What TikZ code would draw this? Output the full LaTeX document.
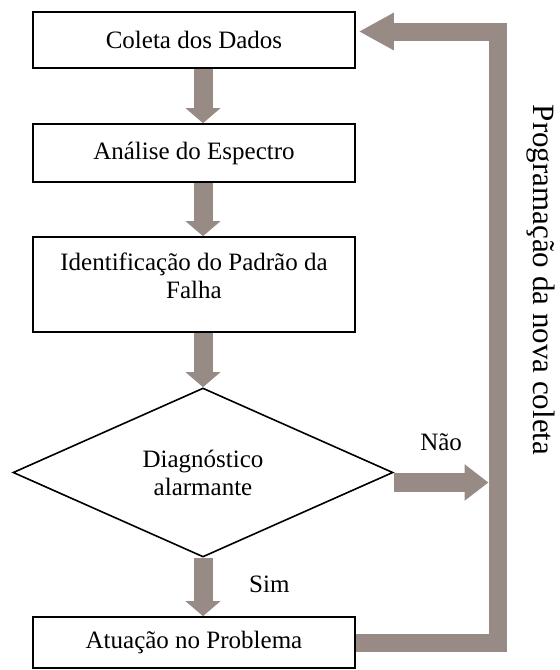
\documentclass[tikz,border=0pt]{standalone}
\usepackage{fontspec}
\setmainfont{Liberation Serif}
\usetikzlibrary{shapes.geometric, arrows.meta, positioning, calc}
\definecolor{setacinza}{RGB}{152,138,133}
\tikzset{
  etapa/.style   = {draw, line width=0.8pt, align=center, minimum width=161pt,
                    inner sep=2pt, font=\fontsize{12.5}{14}\selectfont},
  decisao/.style = {draw, diamond, line width=0.8pt, align=center,
                    minimum width=190pt, minimum height=84.5pt, inner sep=0pt,
                    font=\fontsize{12.5}{14}\selectfont},
  seta/.style    = {-{Triangle[width=17pt, length=7.5pt]}, line width=9.5pt,
                    draw=setacinza},
  retorno/.style = {line width=9pt, draw=setacinza, line join=miter},
  rotulo/.style  = {font=\fontsize{12.5}{14}\selectfont}
}
\begin{document}
\begin{tikzpicture}[x=0.5pt, y=-0.5pt]
\useasboundingbox (0,0) rectangle (560,670);
\node[etapa, minimum height=28pt]                      at (194, 40   ) (coleta)  {Coleta dos Dados};
\node[etapa, minimum height=29pt]                      at (194, 153  ) (analise) {Análise do Espectro};
\node[etapa, minimum height=47.5pt, text depth=8.5pt]  at (194, 284.5) (padrao)  {Identificação do Padrão da\\Falha};
\node[decisao]                                         at (203, 472.5) (diag)    {Diagnóstico\\alarmante};
\node[etapa, minimum height=25.5pt]                    at (194, 642.5) (atuacao) {Atuação no Problema};
\node[rotulo, font=\fontsize{15.5}{18}\selectfont, rotate=-90] at (541, 280) (prog) {Programação da nova coleta};
\coordinate (volta) at (497.5, 330);
\coordinate (nao)   at ([yshift=-5pt]diag.east -| volta);

\draw[seta] ([xshift=4.5pt]coleta.south)  -- ([xshift=4.5pt]analise.north);
\draw[seta] ([xshift=4.5pt]analise.south) -- ([xshift=4.5pt]padrao.north);
\draw[seta] ([xshift=4.5pt]padrao.south)  -- (diag.north);
\draw[seta] (diag.south) -- node[rotulo, right=15pt, pos=0.45] {Sim} ([xshift=4.5pt]atuacao.north);
\draw[seta, -{Triangle[width=17.5pt, length=12pt]}] ([yshift=-5pt]diag.east)
      -- node[rotulo, above=8pt] {Não} ([xshift=-4.5pt]nao);
\draw[retorno, -{Triangle[width=17.5pt, length=17.5pt]}] (atuacao.east) -| (volta)
      |- ([xshift=1.5pt, yshift=4.25pt]coleta.east);
\end{tikzpicture}
\end{document}
